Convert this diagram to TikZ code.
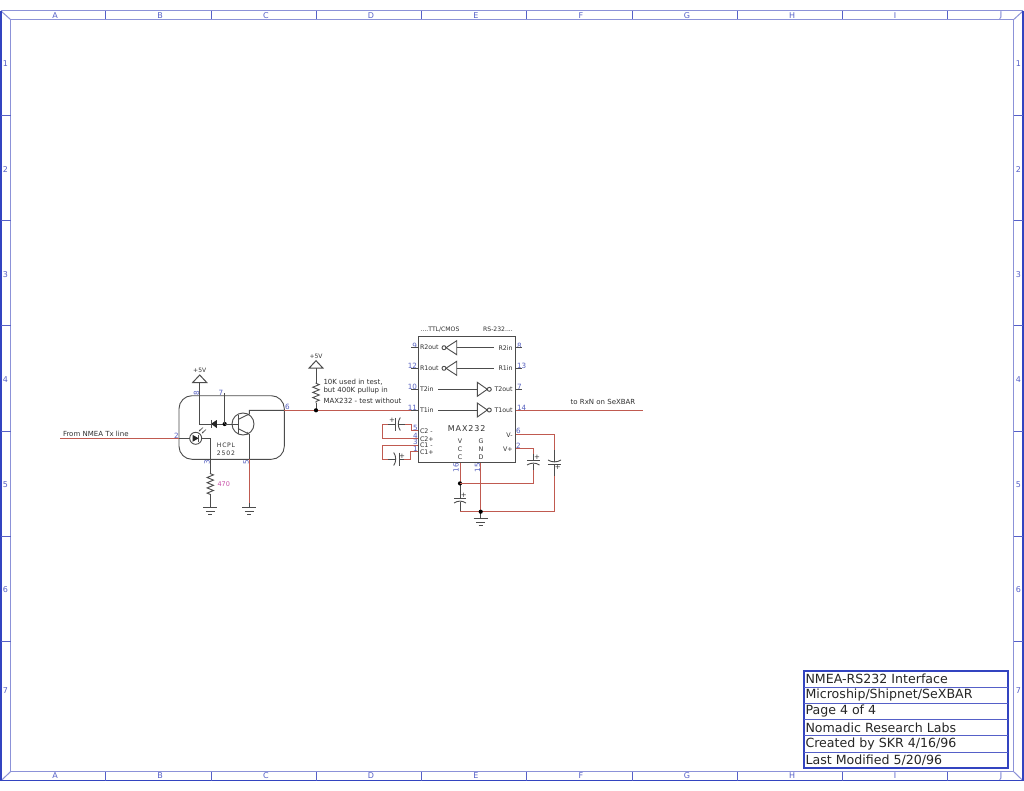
\documentclass[tikz,border=0pt]{standalone}
\usepackage{fontspec}
\setmainfont{DejaVu Sans}
\usetikzlibrary{arrows.meta,decorations.pathmorphing,calc}
\definecolor{bstrong}{HTML}{3344C0}
\definecolor{blight}{HTML}{8C92D8}
\definecolor{bmid}{HTML}{5560C8}
\definecolor{pinblue}{HTML}{5560C0}
\definecolor{wirered}{HTML}{C05A50}
\definecolor{magent}{HTML}{C850A8}
\definecolor{txt}{HTML}{303030}
\tikzset{
 x=1pt,y=-1pt,
 every node/.style={inner sep=0pt,outer sep=0pt,text=txt},
 wire/.style={draw=black!70,line width=0.9pt},
 red wire/.style={draw=wirered,line width=1pt},
 outerb/.style={draw=bstrong,line width=1.4pt},
 innerb/.style={draw=blight,line width=1pt},
 tick/.style={draw=bmid,line width=0.9pt},
 grid/.style={font=\fontsize{8}{8}\selectfont,text=bmid},
 pinl/.style={font=\fontsize{7.2}{8}\selectfont,text=pinblue},
 small/.style={font=\fontsize{7}{8}\selectfont},
 tiny text/.style={font=\fontsize{6.1}{8}\selectfont},
 chip/.style={font=\fontsize{6.3}{8}\selectfont},
 title/.style={anchor=west,font=\fontsize{12.6}{14}\selectfont,text=black!85},
 jdot/.style={circle,fill=black,minimum size=4.2pt},
 res/.style={wire,decorate,decoration={zigzag,segment length=5.2pt,amplitude=3.2pt,pre length=0.6pt,post length=0.6pt}},
}
\newcommand{\gnd}[1]{%
 \draw[wire] ($(#1)+(-7,0)$) -- ($(#1)+(7,0)$)
  ($(#1)+(-4.5,3.5)$) -- ($(#1)+(4.5,3.5)$)
  ($(#1)+(-2,7)$) -- ($(#1)+(2,7)$);}
\newcommand{\vcc}[1]{%
 \draw[wire,line width=1pt] (#1) -- ($(#1)+(-7,7.5)$) -- ($(#1)+(7,7.5)$) -- cycle;}
\begin{document}
\begin{tikzpicture}
\useasboundingbox (0,0) rectangle (1024,791);
\fill[white] (0,0) rectangle (1024,791);
% --- sheet frame
\coordinate (oa) at (1,11); \coordinate (ob) at (1023,11);
\coordinate (oc) at (1023,780.7); \coordinate (od) at (1,780.7);
\coordinate (ia) at (10.5,19.5); \coordinate (ib) at (1013.7,19.5);
\coordinate (ic) at (1013.7,771.7); \coordinate (id) at (10.5,771.7);
\draw[innerb] (ia) -- (ib) -- (ic) -- (id) -- cycle;
\draw[innerb] (oa) -- (ia) (ob) -- (ib) (oc) -- (ic) (od) -- (id);
\draw[innerb] (oa) -- (ob);
\draw[outerb] (ob) -- (oc) -- (od) -- (oa);
\foreach \x in {105.5,211,316,421,526,632,737,842,947}{
 \draw[tick] (\x,11) -- (\x,19.5);
 \draw[tick] (\x,771.7) -- (\x,780.7);}
\foreach \y in {115.5,220.5,325.5,431,536,641}{
 \draw[tick] (1,\y) -- (10.5,\y);
 \draw[tick] (1013.7,\y) -- (1023,\y);}
\foreach \l/\x in {A/55,B/160,C/266,D/371,E/476,F/581,G/687,H/792,I/895,J/1001}{
 \node[grid] (top\l) at (\x,15.5) {\l};
 \node[grid] (bot\l) at (\x,776) {\l};}
\foreach \l/\y in {1/64,2/170,3/275,4/380,5/485,6/590,7/691}{
 \node[grid] (lft\l) at (5.5,\y) {\l};
 \node[grid] (rgt\l) at (1018.5,\y) {\l};}
% --- title block
\draw[draw=bstrong,line width=1.2pt] (804,671) rectangle (1008,768);
\foreach \y in {687.2,703.4,719.6,735.8,752}{\draw[draw=bmid,line width=0.9pt] (804,\y) -- (1008,\y);}
\node[title] (t1) at (805.5,679) {NMEA-RS232 Interface};
\node[title] (t2) at (805.5,695.3) {Microship/Shipnet/SeXBAR};
\node[title] (t3) at (805.5,711.5) {Page 4 of 4};
\node[title] (t4) at (805.5,727.7) {Nomadic Research Labs};
\node[title] (t5) at (805.5,743.9) {Created by SKR 4/16/96};
\node[title] (t6) at (805.5,760) {Last Modified 5/20/96};
% --- optocoupler
\draw[wire,rounded corners=13pt] (179,395.7) rectangle (284.3,459.3);
\node[tiny text] (hc1) at (226,445) {H\kern0.7pt C\kern0.7pt P\kern0.7pt L};
\node[tiny text] (hc2) at (226,453.7) {2\kern0.9pt 5\kern0.9pt 0\kern0.9pt 2};
\coordinate (inL) at (60,438.3); \coordinate (inB) at (179,438.3);
\coordinate (ledA) at (189.7,438.3); \coordinate (ledC) at (201.7,438.3);
\coordinate (lk) at (210.3,438.3); \coordinate (lkb) at (210.3,459.3);
\coordinate (r1t) at (210.3,473); \coordinate (r1b) at (210.3,495);
\coordinate (g1) at (210.3,507.7); \coordinate (g2) at (249.3,507.7);
\coordinate (v1) at (199.7,375); \coordinate (v1b) at (199.7,382.5);
\coordinate (v1c) at (199.7,424);
\coordinate (dj) at (224.7,424); \coordinate (p7) at (224.7,392.7);
\coordinate (bar) at (238,424);
\coordinate (cE) at (249.3,410.3); \coordinate (cC) at (284.3,410.3);
\coordinate (cB) at (249.3,459.3);
\coordinate (ej) at (316,410.3);
\coordinate (ch) at (419,410.3);
\draw[red wire] (inL) -- (inB);
\draw[wire] (inB) -- (ledA) (ledC) -- (lk) -- (lkb);
\draw[wire] (lkb) -- (r1t);
\draw[res] (r1t) -- (r1b);
\draw[wire] (r1b) -- (g1);
\gnd{g1}
\node[circle,draw=black!70,line width=0.9pt,minimum size=12pt] (led) at (195.7,438.3) {};
\fill[black!85] (192.5,434.8) -- (198.6,438.3) -- (192.5,441.8) -- cycle;
\draw[wire] (198.8,434.8) -- (198.8,441.8);
\draw[wire,line width=0.6pt,-{Stealth[length=2pt,width=2pt]}] (206,429.5) -- (201.8,433.4);
\draw[wire,line width=0.6pt,-{Stealth[length=2pt,width=2pt]}] (203,427.5) -- (198.8,431.4);
\vcc{v1}
\node[font=\fontsize{6}{8}\selectfont] (v1t) at (199.7,370) {+5V};
\draw[wire] (v1b) -- (v1c) -- (dj);
\fill[black!85] (211,423.9) -- (216.8,420) -- (216.8,428) -- cycle;
\draw[wire] (211,419.8) -- (211,428.2);
\node[jdot] (dotB) at (dj) {};
\draw[wire] (dj) -- (p7);
\draw[wire] (dj) -- (bar);
\node[circle,draw=black!70,line width=0.9pt,minimum size=22pt] (qc) at (243,424) {};
\draw[wire] (238,414.5) -- (238,433.5);
\draw[wire] (238,419.5) -- (249.3,414) -- (cE) -- (cC);
\draw[wire,-{Stealth[length=3pt,width=3pt]}] (238,428.5) -- (249.3,434.3);
\draw[wire] (249.3,434) -- (cB);
\draw[red wire] (cB) -- (249.3,503);
\draw[wire] (249.3,503) -- (g2);
\gnd{g2}
\draw[red wire] (cC) -- (ch);
\node[tiny text,font=\fontsize{6.5}{8}\selectfont,text=magent] (r470) at (223.7,483.7) {470};
\node[small,anchor=west] (frm) at (63,434) {From NMEA Tx line};
\node[pinl] at (176.3,435.5) {2};
\node[pinl,rotate=90] at (196.5,393) {8};
\node[pinl] at (221,392.5) {7};
\node[pinl] at (287.5,407) {6};
\node[pinl,rotate=90] at (207,462.5) {3};
\node[pinl,rotate=90] at (246,462.5) {5};
% --- pull-up
\coordinate (v2) at (316,360.7); \coordinate (v2b) at (316,368.2);
\coordinate (r2t) at (316,382.7); \coordinate (r2b) at (316,403);
\vcc{v2}
\node[font=\fontsize{6}{8}\selectfont] (v2t) at (316,356) {+5V};
\draw[wire] (v2b) -- (r2t);
\draw[res] (r2t) -- (r2b);
\draw[wire] (r2b) -- (ej);
\node[jdot] (dotP) at (ej) {};
\node[small,anchor=west] (n1) at (323.5,381.8) {10K used in test,};
\node[small,anchor=west] (n2) at (323.5,391) {but 400K pullup in};
\node[small,anchor=west] (n3) at (323.5,400.6) {MAX232 - test without};
% --- MAX232
\draw[wire] (418,336.7) rectangle (515.7,462.7);
\node[tiny text] (ttl) at (440,329.7) {....TTL/CMOS};
\node[tiny text] (rs) at (498,329.7) {RS-232....};
\foreach \t/\y/\n in {R2out/347.7/9,R1out/368.3/12,T2in/389.3/10,T1in/410/11}{
 \node[chip,anchor=west] at (420,\y) {\t};
 \node[pinl,anchor=south east] at (417,\y+0.5) {\n};
 \draw[wire] (411,\y) -- (418,\y);}
\foreach \t/\y/\n in {R2in/347.7/8,R1in/368.3/13,T2out/389.3/7,T1out/410/14}{
 \node[chip,anchor=east] at (512.7,\y) {\t};
 \node[pinl,anchor=south west] at (517,\y+0.5) {\n};
 \draw[wire] (515.7,\y) -- (522,\y);}
% inverters
\foreach \y in {347.7,368.3}{
 \draw[wire] (446,\y) -- (456.7,\y-7) -- (456.7,\y+7) -- cycle;
 \draw[wire] (444,\y) circle[radius=2pt];
 \draw[wire] (456.7,\y) -- (494.3,\y);}
\foreach \y in {389.3,410}{
 \draw[wire] (487.3,\y) -- (477.3,\y-7) -- (477.3,\y+7) -- cycle;
 \draw[wire] (489.3,\y) circle[radius=2pt];
 \draw[wire] (438,\y) -- (477.3,\y);}
\node[font=\fontsize{8}{10}\selectfont] (mx) at (466.7,428.3) {M\kern0.9pt A\kern0.9pt X\kern0.9pt 2\kern0.9pt 3\kern0.9pt 2};
\foreach \t/\y in {C2 -/431.7,C2+/438.8,C1 -/445.6,C1+/452.6}{
 \node[chip,anchor=west] at (420,\y) {\t};}
\node[pinl] at (415.5,428) {5};
\node[pinl] at (415.5,436) {4};
\node[pinl] at (415.5,442) {3};
\node[pinl] at (415.5,449) {1};
\node[chip] at (460,441) {V}; \node[chip] at (460,449.3) {C}; \node[chip] at (460,457.7) {C};
\node[chip] at (481,441) {G}; \node[chip] at (481,449.3) {N}; \node[chip] at (481,457.7) {D};
\node[chip,anchor=east] at (512.7,435) {V-};
\node[chip,anchor=east] at (512.7,449) {V+};
\node[pinl] at (518.5,431) {6};
\node[pinl] at (518.5,445.5) {2};
\node[pinl,rotate=90] at (456,467.5) {16};
\node[pinl,rotate=90] at (477.5,467.5) {15};
% output
\coordinate (ot) at (515.7,410); \coordinate (oe) at (642.7,410);
\draw[red wire] (ot) -- (oe);
\node[small] (rx) at (603,402) {to RxN on SeXBAR};
% C2 loop
\draw[red wire] (418,430.7) -- (411.7,430.7) -- (411.7,424) -- (405,424);
\draw[red wire] (388,424) -- (382.3,424) -- (382.3,438.3) -- (418,438.3);
\draw[wire] (388,424) -- (395,424) (399,424) -- (405,424);
\draw[wire] (395,417.5) -- (395,430.5);
\draw[wire] (400.3,417.5) .. controls (397.6,421.5) and (397.6,426.5) .. (400.3,430.5);
\node[small] at (392,420.5) {+};
% C1 loop
\draw[red wire] (418,445) -- (382.3,445) -- (382.3,459) -- (388,459);
\draw[red wire] (404,459) -- (410.7,459) -- (410.7,451.7) -- (418,451.7);
\draw[wire] (388,459) -- (395,459) (399,459) -- (404,459);
\draw[wire] (399,452.5) -- (399,465.5);
\draw[wire] (393.7,452.5) .. controls (396.4,456.5) and (396.4,461.5) .. (393.7,465.5);
\node[small] at (402,456) {+};
% VCC
\coordinate (vcT) at (460,462.7); \coordinate (vcJ) at (460,483.4);
\coordinate (rtn) at (460,511.7); \coordinate (gj) at (480.7,511.7);
\coordinate (gT) at (480.7,462.7); \coordinate (g3) at (480.7,518.5);
\draw[red wire] (vcT) -- (vcJ);
\draw[wire] (vcJ) -- (460,498.6) (460,501.6) -- (rtn);
\draw[wire] (454,498.6) -- (466,498.6);
\draw[wire] (454,503) .. controls (458,500.5) and (462,500.5) .. (466,503);
\node[small] at (463.7,495.8) {+};
\draw[red wire] (gT) -- (gj);
\draw[red wire] (rtn) -- (gj) -- (554.3,511.7);
\draw[wire] (gj) -- (g3);
\gnd{g3}
\node[jdot] (dotV) at (vcJ) {};
\node[jdot] (dotG) at (gj) {};
% V+ cap
\draw[red wire] (vcJ) -- (533.3,483.4) -- (533.3,470);
\draw[wire] (533.3,470) -- (533.3,463.5) (533.3,460.5) -- (533.3,454);
\draw[red wire] (533.3,454) -- (533.3,448.6) -- (515.7,448.6);
\draw[wire] (527,460.5) -- (539.5,460.5);
\draw[wire] (527,465) .. controls (531,462.5) and (536,462.5) .. (539.5,465);
\node[small] at (537,457.6) {+};
% V- cap
\draw[red wire] (515.7,434.3) -- (554.3,434.3) -- (554.3,450);
\draw[wire] (554.3,450) -- (554.3,461.5) (554.3,464) -- (554.3,476);
\draw[red wire] (554.3,476) -- (554.3,511.7);
\draw[wire] (548,460) .. controls (552,462.5) and (557,462.5) .. (561,460);
\draw[wire] (548,464.3) -- (561,464.3);
\node[small] at (557.8,467.5) {+};
\end{tikzpicture}
\end{document}
